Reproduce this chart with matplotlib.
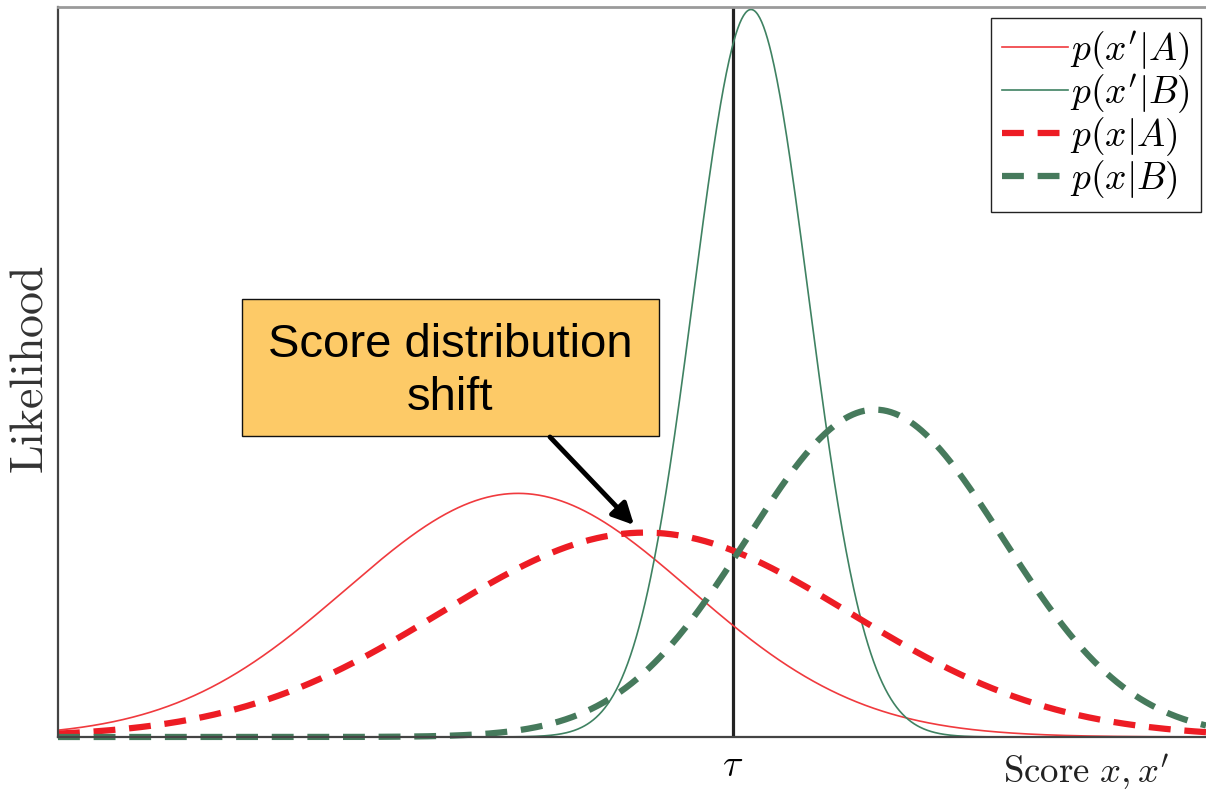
import numpy as np
import matplotlib
matplotlib.use('Agg')
import matplotlib.pyplot as plt
import matplotlib.patches as mpatches

plt.rcParams['mathtext.fontset'] = 'cm'

# Score distributions (mean, std), score units
labels = [r"$p(x'|A)$", r"$p(x'|B)$", r"$p(x|A)$", r"$p(x|B)$"]
means = [4.60, 6.93, 5.87, 8.17]
stds = [1.72, 0.576, 2.05, 1.28]
tau = 6.75

# Styles
colors = ['#F03A3E', '#3F8262', '#ED1C24', '#467A5C']
widths = [1.2, 1.2, 4.5, 4.5]
styles = ['-', '-', (0, (3.5, 2.2)), (0, (3.5, 2.2))]

x = np.linspace(0, 11.48, 1200)

fig = plt.figure(figsize=(12.06, 7.92), dpi=100)
ax = fig.add_axes([58/1206, 55/792, 1148/1206, 730/792])

for lab, m, s, c, w, ls in zip(labels, means, stds, colors, widths, styles):
    pdf = np.exp(-0.5*((x - m)/s)**2) / (s*np.sqrt(2*np.pi))
    ax.plot(x, pdf, color=c, lw=w, linestyle=ls, label=lab, clip_on=False)

# threshold
ax.axvline(tau, color='#222222', lw=2.3, zorder=1)

ax.set_xlim(0, 11.48)
ax.set_ylim(0, 0.695)
ax.set_xticks([])
ax.set_yticks([])
ax.spines['right'].set_visible(False)
ax.spines['left'].set_color('#444444')
ax.spines['bottom'].set_color('#444444')
ax.spines['left'].set_linewidth(1.6)
ax.spines['bottom'].set_linewidth(1.6)
ax.spines['top'].set_color('#9a9a9a')
ax.spines['top'].set_linewidth(2.0)

leg = ax.legend(loc='upper right', bbox_to_anchor=(1201/1206, 1 - 18/792),
                bbox_transform=fig.transFigure, borderaxespad=0, fontsize=27,
                handlelength=1.75, handletextpad=0.05, labelspacing=0.0,
                borderpad=0.3, fancybox=False, framealpha=1, edgecolor='#222222')
leg.get_frame().set_linewidth(1.0)

# annotation box
box = mpatches.Rectangle((0.1603, 0.4123), 0.3632, 0.1877, transform=ax.transAxes,
                         facecolor='#FDCA67', edgecolor='#111111', lw=1.0, zorder=5)
ax.add_patch(box)
ax.text(0.3415, 0.501, "Score distribution\nshift", transform=ax.transAxes,
        ha='center', va='center', fontsize=34, family='Liberation Sans',
        linespacing=1.28, zorder=6)
ax.annotate("", xy=((634-58)/1148, (737-525)/730), xytext=((550-58)/1148, (737-437)/730),
            xycoords='axes fraction', textcoords='axes fraction',
            arrowprops=dict(arrowstyle='-|>', lw=3.5, mutation_scale=32, color='black',
                            shrinkA=0, shrinkB=0), zorder=6)

# axis texts
fig.text(30/1206, 1 - 370/792, r'$\mathrm{Likelihood}$', rotation=90,
         ha='center', va='center', fontsize=33, color='#333333')
fig.text(733/1206, 1 - 766/792, r'$\tau$', ha='center', va='center', fontsize=27)
fig.text(1003/1206, 1 - 783/792, r"$\mathrm{Score}\ x, x'$", ha='left', va='baseline',
         fontsize=26.5, color='#222222')

fig.savefig('out.png', dpi=100)
